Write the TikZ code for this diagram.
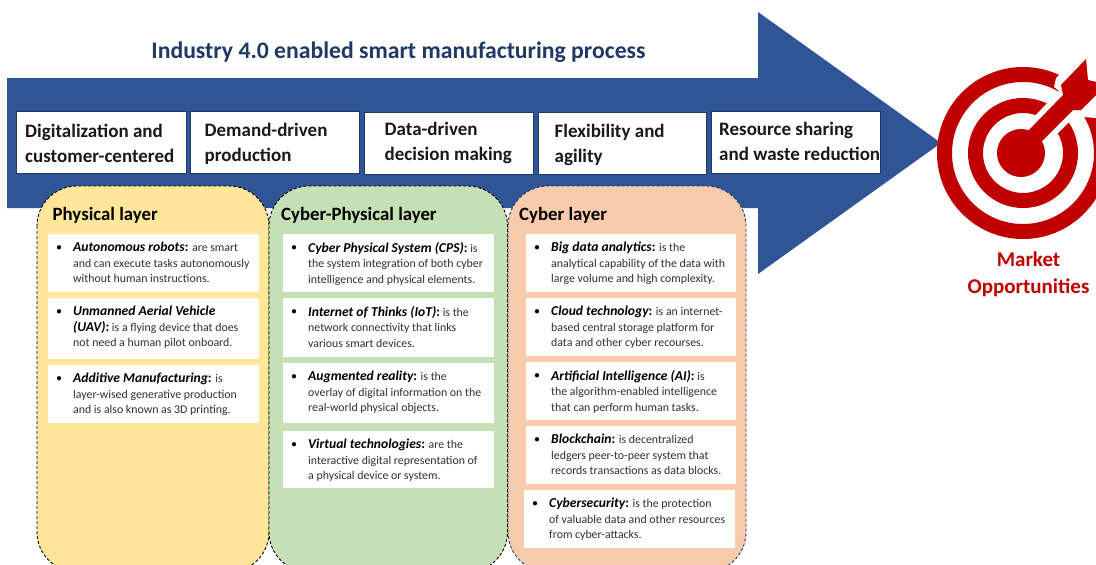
\documentclass[tikz,border=0pt]{standalone}
\usepackage{fontspec}
\setmainfont{Carlito}
\definecolor{arrowblue}{HTML}{2F5597}
\definecolor{titleblue}{HTML}{1F3864}
\definecolor{tred}{HTML}{C00000}
\definecolor{py}{HTML}{FFE699}
\definecolor{pg}{HTML}{C5E0B4}
\definecolor{po}{HTML}{F8CBAD}
\definecolor{bodytext}{HTML}{303030}
\tikzset{
 topbox/.style={draw=titleblue,line width=0.8pt,fill=white},
 toptext/.style={anchor=west,align=left,inner sep=0pt,font=\fontsize{19}{25}\selectfont\bfseries,text=black!90},
 panel/.style={fill=#1,line width=0.9pt,densely dashed,rounded corners=40pt},
 paneltitle/.style={anchor=west,inner sep=0pt,font=\fontsize{18.8}{20}\selectfont\bfseries,text=black},
 itemtext/.style={anchor=north west,align=left,inner sep=0pt,text=bodytext,font=\fontsize{11.85}{15.4}\selectfont},
 bul/.style={inner sep=0pt,font=\fontsize{11}{11}\selectfont,text=black},
}
\newcommand{\lead}[1]{{\fontsize{13.6}{15.4}\selectfont\bfseries\itshape\textcolor{black}{#1}}}
\newcommand{\leadb}[1]{{\fontsize{13.6}{15.4}\selectfont\bfseries\textcolor{black}{#1}}}
% name, x1, y1, x2, y2, text
\newcommand{\itembox}[6]{%
 \fill[white] (#2,#3) rectangle (#4,#5);
 \node[bul] (#1b) at (#2+11,#3+14) {$\bullet$};
 \node[itemtext] (#1) at (#2+25,#3+8) {#6};
}
\begin{document}
\begin{tikzpicture}[x=1pt,y=-1pt]
\useasboundingbox (0,0) rectangle (1096,565);
\clip (0,0) rectangle (1096,565);
\fill[white] (0,0) rectangle (1096,565);
% big arrow
\fill[arrowblue] (7,78) -- (758,78) -- (758,12) -- (941,143) -- (758,274) -- (758,208) -- (7,208) -- cycle;
\node[anchor=center,inner sep=0pt,font=\fontsize{23.7}{26}\selectfont\bfseries,text=titleblue] (title) at (398.5,52.5) {Industry 4.0 enabled smart manufacturing process};
% top boxes
\node[topbox,minimum width=170pt,minimum height=62pt,inner sep=0pt,anchor=north west] (b1) at (16,111) {};
\node[topbox,minimum width=169pt,minimum height=62pt,inner sep=0pt,anchor=north west] (b2) at (190,111) {};
\node[topbox,minimum width=169pt,minimum height=62pt,inner sep=0pt,anchor=north west] (b3) at (364,112) {};
\node[topbox,minimum width=168pt,minimum height=62pt,inner sep=0pt,anchor=north west] (b4) at (538,112) {};
\node[topbox,minimum width=169pt,minimum height=62pt,inner sep=0pt,anchor=north west] (b5) at (711,111) {};
\node[toptext] (t1) at (25,143) {Digitalization and\\customer-centered};
\node[toptext] (t2) at (204.5,144) {Demand-driven\\production};
\node[toptext] (t3) at (384.5,143) {Data-driven\\decision making};
\node[toptext] (t4) at (554.5,145) {Flexibility and\\agility};
\node[toptext] (t5) at (719,141) {Resource sharing\\and waste reduction};
% panels
\draw[panel=py,draw=black] (37,186) rectangle (269,572);
\draw[panel=pg,draw=black] (269,186) rectangle (507.5,572);
\draw[panel=po,draw=arrowblue!70!black] (508,186) rectangle (746,572);
\node[paneltitle] (p1) at (52.5,215.5) {Physical layer};
\node[paneltitle] (p2) at (281,215.5) {Cyber-Physical layer};
\node[paneltitle] (p3) at (519,215.5) {Cyber layer};
% physical
\itembox{a1}{48}{234}{259}{292}{\lead{Autonomous robots}\leadb{:} are smart\\and can execute tasks autonomously\\without human instructions.}
\itembox{a2}{48}{298}{259}{359}{\lead{Unmanned Aerial Vehicle}\\\lead{(UAV)}\leadb{:} is a flying device that does\\not need a human pilot onboard.}
\itembox{a3}{48}{365}{259}{423}{\lead{Additive Manufacturing}\leadb{:} is\\layer-wised generative production\\and is also known as 3D printing.}
% cyber-physical
\itembox{c1}{283}{234}{494}{292}{\lead{Cyber Physical System (CPS)}\leadb{:} is\\the system integration of both cyber\\intelligence and physical elements.}
\itembox{c2}{283}{298}{494}{357}{\lead{Internet of Thinks (IoT)}\leadb{:} is the\\network connectivity that links\\various smart devices.}
\itembox{c3}{283}{363}{494}{423}{\lead{Augmented reality}\leadb{:} is the\\overlay of digital information on the\\real-world physical objects.}
\itembox{c4}{283}{431}{494}{488}{\lead{Virtual technologies}\leadb{:} are the\\interactive digital representation of\\a physical device or system.}
% cyber
\itembox{d1}{526}{234}{736}{292}{\lead{Big data analytics}\leadb{:} is the\\analytical capability of the data with\\large volume and high complexity.}
\itembox{d2}{526}{298}{736}{356}{\lead{Cloud technology}\leadb{:} is an internet-\\based central storage platform for\\data and other cyber recourses.}
\itembox{d3}{526}{362}{736}{420}{\lead{Artificial Intelligence (AI)}\leadb{:} is\\the algorithm-enabled intelligence\\that can perform human tasks.}
\itembox{d4}{526}{426}{736}{484}{\lead{Blockchain}\leadb{:} is decentralized\\ledgers peer-to-peer system that\\records transactions as data blocks.}
\itembox{d5}{524}{490}{735}{548}{\lead{Cybersecurity}\leadb{:} is the protection\\of valuable data and other resources\\from cyber-attacks.}
% target
\draw[tred,line width=15pt] (1023,153) circle (78.5);
\draw[tred,line width=15pt] (1023,153) circle (47.5);
% white gap around dart
\fill[white] (1025,126) -- (1059,91) -- (1054,87) -- (1056,78) -- (1086,50) -- (1096,50) -- (1096,118) -- (1083,117) -- (1077,114) -- (1044,147) -- cycle;
\fill[tred] (1021,153) circle (24);
% dart
\fill[tred] (1029,130) -- (1063,95) -- (1061,85) -- (1086,59) -- (1088,80) -- (1096,82) -- (1096,95) -- (1081,110) -- (1073,110) -- (1040,143) -- (1022,153) -- cycle;
\node[align=center,inner sep=0pt,font=\fontsize{21}{27}\selectfont\bfseries,text=tred] (mo) at (1028.5,274) {Market\\Opportunities};
\end{tikzpicture}
\end{document}
